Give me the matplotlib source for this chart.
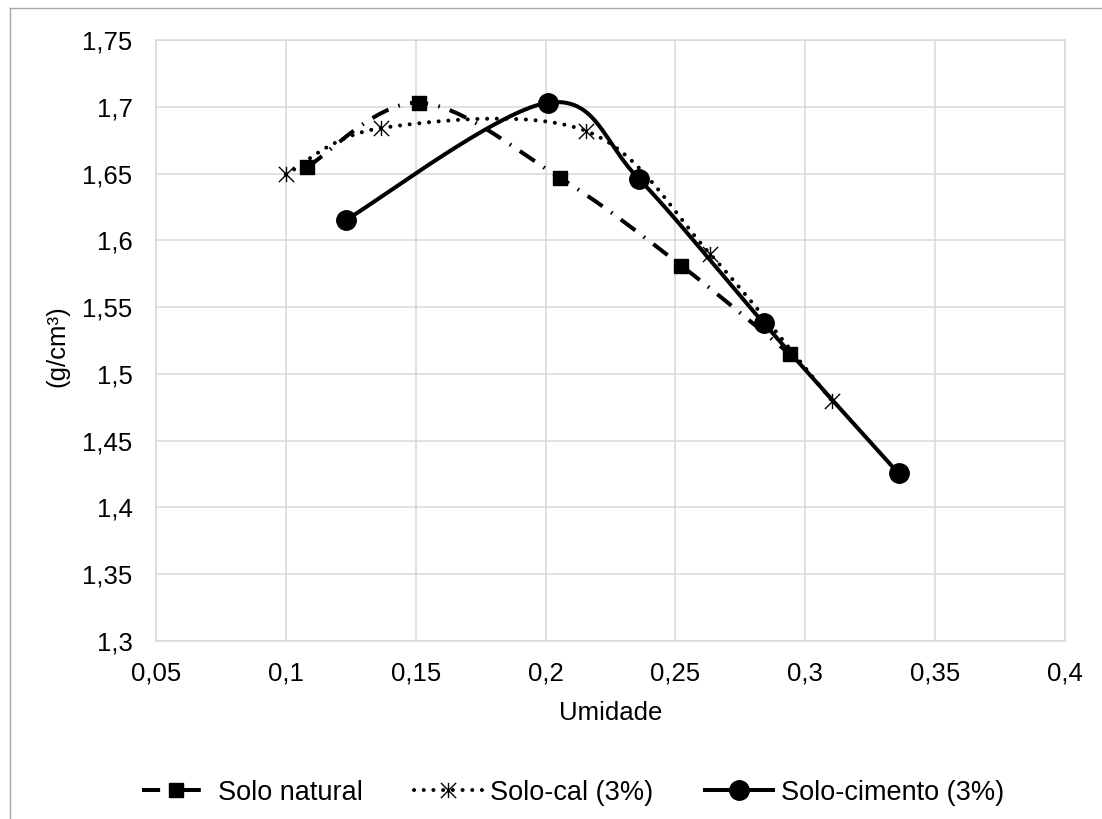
import matplotlib
import numpy as np

matplotlib.use("Agg")
import matplotlib.pyplot as plt
from matplotlib.lines import Line2D
from matplotlib.path import Path

plt.rcParams["font.family"] = ["Liberation Sans", "DejaVu Sans"]
plt.rcParams["font.size"] = 18.5

# moisture content (Umidade) vs dry density (g/cm3)
natural_x = [0.1083, 0.1513, 0.2054, 0.2523, 0.2942]
natural_y = [1.655, 1.703, 1.647, 1.581, 1.5146]
cal_x = [0.1000, 0.1365, 0.2154, 0.2635, 0.3102]
cal_y = [1.6493, 1.684, 1.682, 1.5895, 1.480]
cimento_x = [0.1233, 0.2009, 0.2359, 0.2840, 0.3359]
cimento_y = [1.6155, 1.703, 1.646, 1.538, 1.4255]

labels = ["Solo natural", "Solo-cal (3%)", "Solo-cimento (3%)"]
x_ticks = [0.05, 0.1, 0.15, 0.2, 0.25, 0.3, 0.35, 0.4]
y_ticks = [1.3, 1.35, 1.4, 1.45, 1.5, 1.55, 1.6, 1.65, 1.7, 1.75]

# Excel-style "star" marker: an X with a vertical bar through it
star = Path([(0, -1), (0, 1), (-1, -1), (1, 1), (-1, 1), (1, -1)],
            [Path.MOVETO, Path.LINETO] * 3)


def smooth(x, y, n=40):
    # Excel-like smoothed line: cubic Bezier through points, Catmull-Rom tangents
    p = np.column_stack([x, y])
    pts = np.vstack([p[0], p, p[-1]])
    t = np.linspace(0, 1, n)[:, None]
    out = []
    for i in range(1, len(pts) - 2):
        p0, p1, p2, p3 = pts[i - 1], pts[i], pts[i + 1], pts[i + 2]
        c1 = p1 + (p2 - p0) / 6
        c2 = p2 - (p3 - p1) / 6
        seg = ((1 - t) ** 3) * p1 + 3 * ((1 - t) ** 2) * t * c1 \
            + 3 * (1 - t) * t ** 2 * c2 + t ** 3 * p2
        out.append(seg if i == 1 else seg[1:])
    out = np.vstack(out)
    return out[:, 0], out[:, 1]


fig = plt.figure(figsize=(11.02, 8.19), dpi=100)
ax = fig.add_axes([0.1416, 0.2173, 0.8248, 0.7339])

lw = 2.9
dashdot = (0, (4.5, 2.6, 0.4, 2.6))
dots = (0, (0.01, 2.4))

sx, sy = smooth(natural_x, natural_y)
ax.plot(sx, sy, color="black", lw=lw, linestyle=dashdot,
        dash_capstyle="butt", zorder=3)
ax.plot(natural_x, natural_y, "s", color="black", ms=10, zorder=4)

sx, sy = smooth(cal_x, cal_y)
ax.plot(sx, sy, color="black", lw=lw, linestyle=dots,
        dash_capstyle="round", zorder=3)
ax.plot(cal_x, cal_y, linestyle="none", marker=star, color="black",
        ms=11, mew=1.0, zorder=4)

sx, sy = smooth(cimento_x, cimento_y)
ax.plot(sx, sy, color="black", lw=lw, solid_capstyle="round", zorder=5)
ax.plot(cimento_x, cimento_y, "o", color="black", ms=14, zorder=6)

ax.set_xlim(0.05, 0.4)
ax.set_ylim(1.3, 1.75)
ax.set_xticks(x_ticks)
ax.set_yticks(y_ticks)
ax.set_xticklabels([f"{v:g}".replace(".", ",") for v in x_ticks])
ax.set_yticklabels([f"{v:g}".replace(".", ",") for v in y_ticks])
ax.tick_params(length=0)
ax.tick_params(axis="x", pad=15)
ax.tick_params(axis="y", pad=17)
ax.grid(True, color="#d9d9d9", lw=1.1)
ax.set_axisbelow(True)
for s in ax.spines.values():
    s.set_color("#d9d9d9")
    s.set_linewidth(1.1)

ax.set_xlabel("Umidade")
ax.xaxis.set_label_coords(0.5, -0.1)
ax.set_ylabel("(g/cm³)")
ax.yaxis.set_label_coords(-0.095, 0.49)

handles = [
    Line2D([], [], color="black", lw=lw, linestyle=dashdot,
           marker="s", ms=10),
    Line2D([], [], color="black", lw=lw, linestyle=dots,
           dash_capstyle="round", marker=star, ms=11, mew=1.0),
    Line2D([], [], color="black", lw=lw, marker="o", ms=14),
]
fig.legend(handles, labels, loc="center", bbox_to_anchor=(0.52, 0.032),
           ncol=3, frameon=False, handlelength=2.5, handletextpad=0.3,
           columnspacing=1.9, numpoints=1, fontsize=19.5)

# chart area border (cropped on right and bottom)
fig.add_artist(Line2D([10 / 1102, 1], [1 - 8 / 819, 1 - 8 / 819],
                      transform=fig.transFigure, color="#a6a6a6", lw=1))
fig.add_artist(Line2D([10 / 1102, 10 / 1102], [0, 1 - 8 / 819],
                      transform=fig.transFigure, color="#a6a6a6", lw=1))

fig.savefig("out.png", dpi=100)
